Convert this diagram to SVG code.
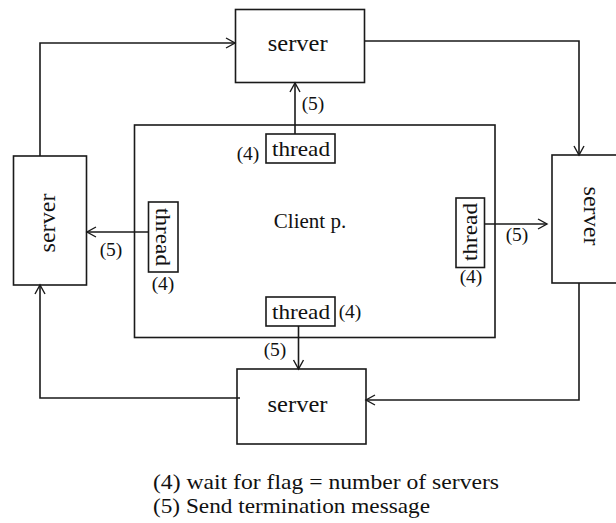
<svg xmlns="http://www.w3.org/2000/svg" width="616" height="523" viewBox="0 0 616 523">
  <defs>
    <marker id="open" markerUnits="userSpaceOnUse" markerWidth="14" markerHeight="14" refX="10" refY="6" orient="auto">
      <path d="M1,1 L10,6 L1,11" fill="none" stroke="#1a1a1a" stroke-width="1.4"/>
    </marker>
    <style>
      .box { fill: none; stroke: #1a1a1a; stroke-width: 1.6; }
      .wire { fill: none; stroke: #1a1a1a; stroke-width: 1.6; marker-end: url(#open); }
      .serif { font-family: "Liberation Serif", "Times New Roman", serif; fill: #111; }
      .srv { font-size: 23px; text-anchor: middle; }
      .thr { font-size: 22px; text-anchor: middle; }
      .num { font-size: 19.5px; text-anchor: middle; }
      .leg { font-size: 21px; }
    </style>
  </defs>
  <rect width="616" height="523" fill="#ffffff"/>

  <!-- connectors -->
  <g id="connectors">
    <polyline class="wire" points="40,156 40,43 235,43"/>
    <polyline class="wire" points="364,41 579,41 579,155"/>
    <polyline class="wire" points="579,283 579,400 366,400"/>
    <polyline class="wire" points="240,398 40,398 40,285"/>
    <line class="wire" x1="295" y1="134" x2="295" y2="83"/>
    <line class="wire" x1="148" y1="232" x2="87" y2="232"/>
    <line class="wire" x1="485" y1="224" x2="547" y2="224"/>
    <line class="wire" x1="298.5" y1="326" x2="298.5" y2="369"/>
  </g>

  <!-- client process -->
  <g id="client">
    <rect class="box" x="134.5" y="125" width="360.5" height="212.5"/>
    <text class="serif" x="310" y="228" font-size="21" text-anchor="middle">Client p.</text>
  </g>

  <!-- servers -->
  <g id="server-top">
    <rect class="box" x="235.5" y="9.5" width="129" height="73"/>
    <text class="serif srv" x="297.7" y="51" textLength="60" lengthAdjust="spacingAndGlyphs">server</text>
  </g>
  <g id="server-left">
    <rect class="box" x="13.5" y="156" width="73" height="129"/>
    <text class="serif srv" transform="translate(54.5,223) rotate(-90)" textLength="59" lengthAdjust="spacingAndGlyphs">server</text>
  </g>
  <g id="server-right">
    <rect class="box" x="552" y="155" width="70" height="128"/>
    <text class="serif srv" transform="translate(583.5,216) rotate(90)" textLength="59" lengthAdjust="spacingAndGlyphs">server</text>
  </g>
  <g id="server-bottom">
    <rect class="box" x="237" y="369" width="129" height="75"/>
    <text class="serif srv" x="297.5" y="412" textLength="60" lengthAdjust="spacingAndGlyphs">server</text>
  </g>

  <!-- threads -->
  <g id="thread-top">
    <rect class="box" x="266" y="134" width="69" height="29"/>
    <text class="serif thr" x="301" y="156" textLength="58" lengthAdjust="spacingAndGlyphs">thread</text>
    <text class="serif num" x="248" y="160">(4)</text>
    <text class="serif num" x="313" y="110">(5)</text>
  </g>
  <g id="thread-left">
    <rect class="box" x="148.5" y="202" width="29.5" height="70"/>
    <text class="serif thr" transform="translate(156,237) rotate(90)" textLength="58" lengthAdjust="spacingAndGlyphs">thread</text>
    <text class="serif num" x="163" y="290">(4)</text>
    <text class="serif num" x="111" y="256">(5)</text>
  </g>
  <g id="thread-right">
    <rect class="box" x="456" y="198" width="28.5" height="69.5"/>
    <text class="serif thr" transform="translate(477,232) rotate(-90)" textLength="58" lengthAdjust="spacingAndGlyphs">thread</text>
    <text class="serif num" x="471" y="283">(4)</text>
    <text class="serif num" x="517" y="241">(5)</text>
  </g>
  <g id="thread-bottom">
    <rect class="box" x="266" y="297" width="69" height="29"/>
    <text class="serif thr" x="301" y="319" textLength="58" lengthAdjust="spacingAndGlyphs">thread</text>
    <text class="serif num" x="350" y="318">(4)</text>
    <text class="serif num" x="275" y="356">(5)</text>
  </g>

  <!-- legend -->
  <g id="legend">
    <text class="serif leg" x="153" y="489" textLength="346" lengthAdjust="spacingAndGlyphs">(4) wait for flag = number of servers</text>
    <text class="serif leg" x="153" y="513" textLength="277" lengthAdjust="spacingAndGlyphs">(5) Send termination message</text>
  </g>
</svg>
